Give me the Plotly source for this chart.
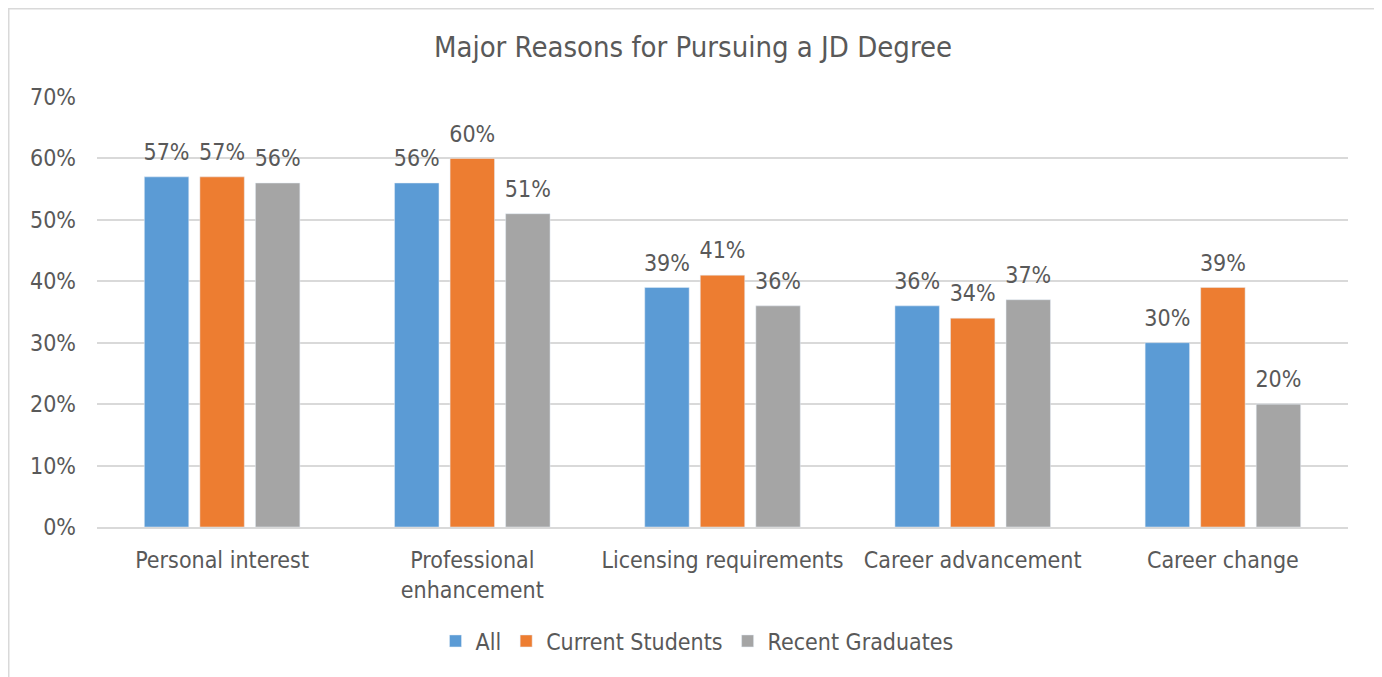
import plotly.graph_objects as go

categories = ["Personal interest", "Professional<br>enhancement", "Licensing requirements",
              "Career advancement", "Career change"]
all_vals = [57, 56, 39, 36, 30]
current_vals = [57, 60, 41, 34, 39]
recent_vals = [56, 51, 36, 37, 20]
series_names = ["All", "Current Students", "Recent Graduates"]
colors = ["#5B9BD5", "#ED7D31", "#A5A5A5"]
y_ticks = [0, 10, 20, 30, 40, 50, 60, 70]

FONT = "DejaVu Sans Condensed, DejaVu Sans"
TXT = "#595959"
FS = 23

fig = go.Figure()
series = [all_vals, current_vals, recent_vals]
for i, (name, vals, col) in enumerate(zip(series_names, series, colors)):
    fig.add_trace(go.Bar(
        x=categories, y=vals, name=name, marker_color=col,
        offsetgroup=str(i), alignmentgroup="a",
    ))
for i, (name, vals) in enumerate(zip(series_names, series)):
    fig.add_trace(go.Scatter(
        x=categories, y=vals, mode="markers+text", showlegend=False, hoverinfo="skip",
        offsetgroup=str(i), alignmentgroup="a",
        marker=dict(size=16, opacity=0),
        text=[f"{v}%" for v in vals], textposition="top center",
        textfont=dict(family=FONT, size=FS, color=TXT), cliponaxis=False,
    ))

OFF = 8  # page body margin
W, H = 1382 - OFF, 677 - OFF
L, T = 97 - OFF, 97 - OFF
R = W - (1348 - OFF)
B = H - (527 - OFF)
pw, ph = W - L - R, H - T - B

def px_x(p):
    return (p - OFF - L) / pw

def px_y(p):
    return (H - B - (p - OFF)) / ph

fig.add_shape(type="rect", xref="paper", yref="paper",
              x0=px_x(OFF + 0.75), x1=px_x(1377), y0=px_y(700), y1=px_y(OFF + 0.75),
              line=dict(color="#D9D9D9", width=1.5), fillcolor="rgba(0,0,0,0)", layer="below")

fig.update_layout(
    width=W, height=H,
    margin=dict(l=L, r=R, t=T, b=B, autoexpand=False),
    paper_bgcolor="white", plot_bgcolor="white",
    barmode="group", bargap=0.334, bargroupgap=0.2,
    scattermode="group", scattergap=0.334,
    title=dict(text="Major Reasons for Pursuing a JD Degree", x=px_x(693), xanchor="center",
               xref="paper", y=1 - (47 - OFF) / H, yanchor="middle",
               font=dict(family=FONT, size=29, color=TXT)),
    font=dict(family=FONT, size=FS, color=TXT),
    xaxis=dict(showgrid=False, showline=True, linecolor="#D9D9D9", linewidth=1.5,
               ticks="", tickfont=dict(family=FONT, size=FS, color=TXT), ticklabelstandoff=12),
    yaxis=dict(range=[0, 70], tickvals=y_ticks, ticktext=[f"{v}%" for v in y_ticks],
               showgrid=True, gridcolor="#D9D9D9", gridwidth=1.5, zeroline=False,
               showline=False, ticks="", tickfont=dict(family=FONT, size=FS, color=TXT),
               ticklabelstandoff=20),
    legend=dict(orientation="h", x=px_x(697), xanchor="center", y=px_y(641), yanchor="middle",
                font=dict(family=FONT, size=FS, color=TXT), itemwidth=30, traceorder="normal"),
    showlegend=True,
)

fig.write_html("out.html")
